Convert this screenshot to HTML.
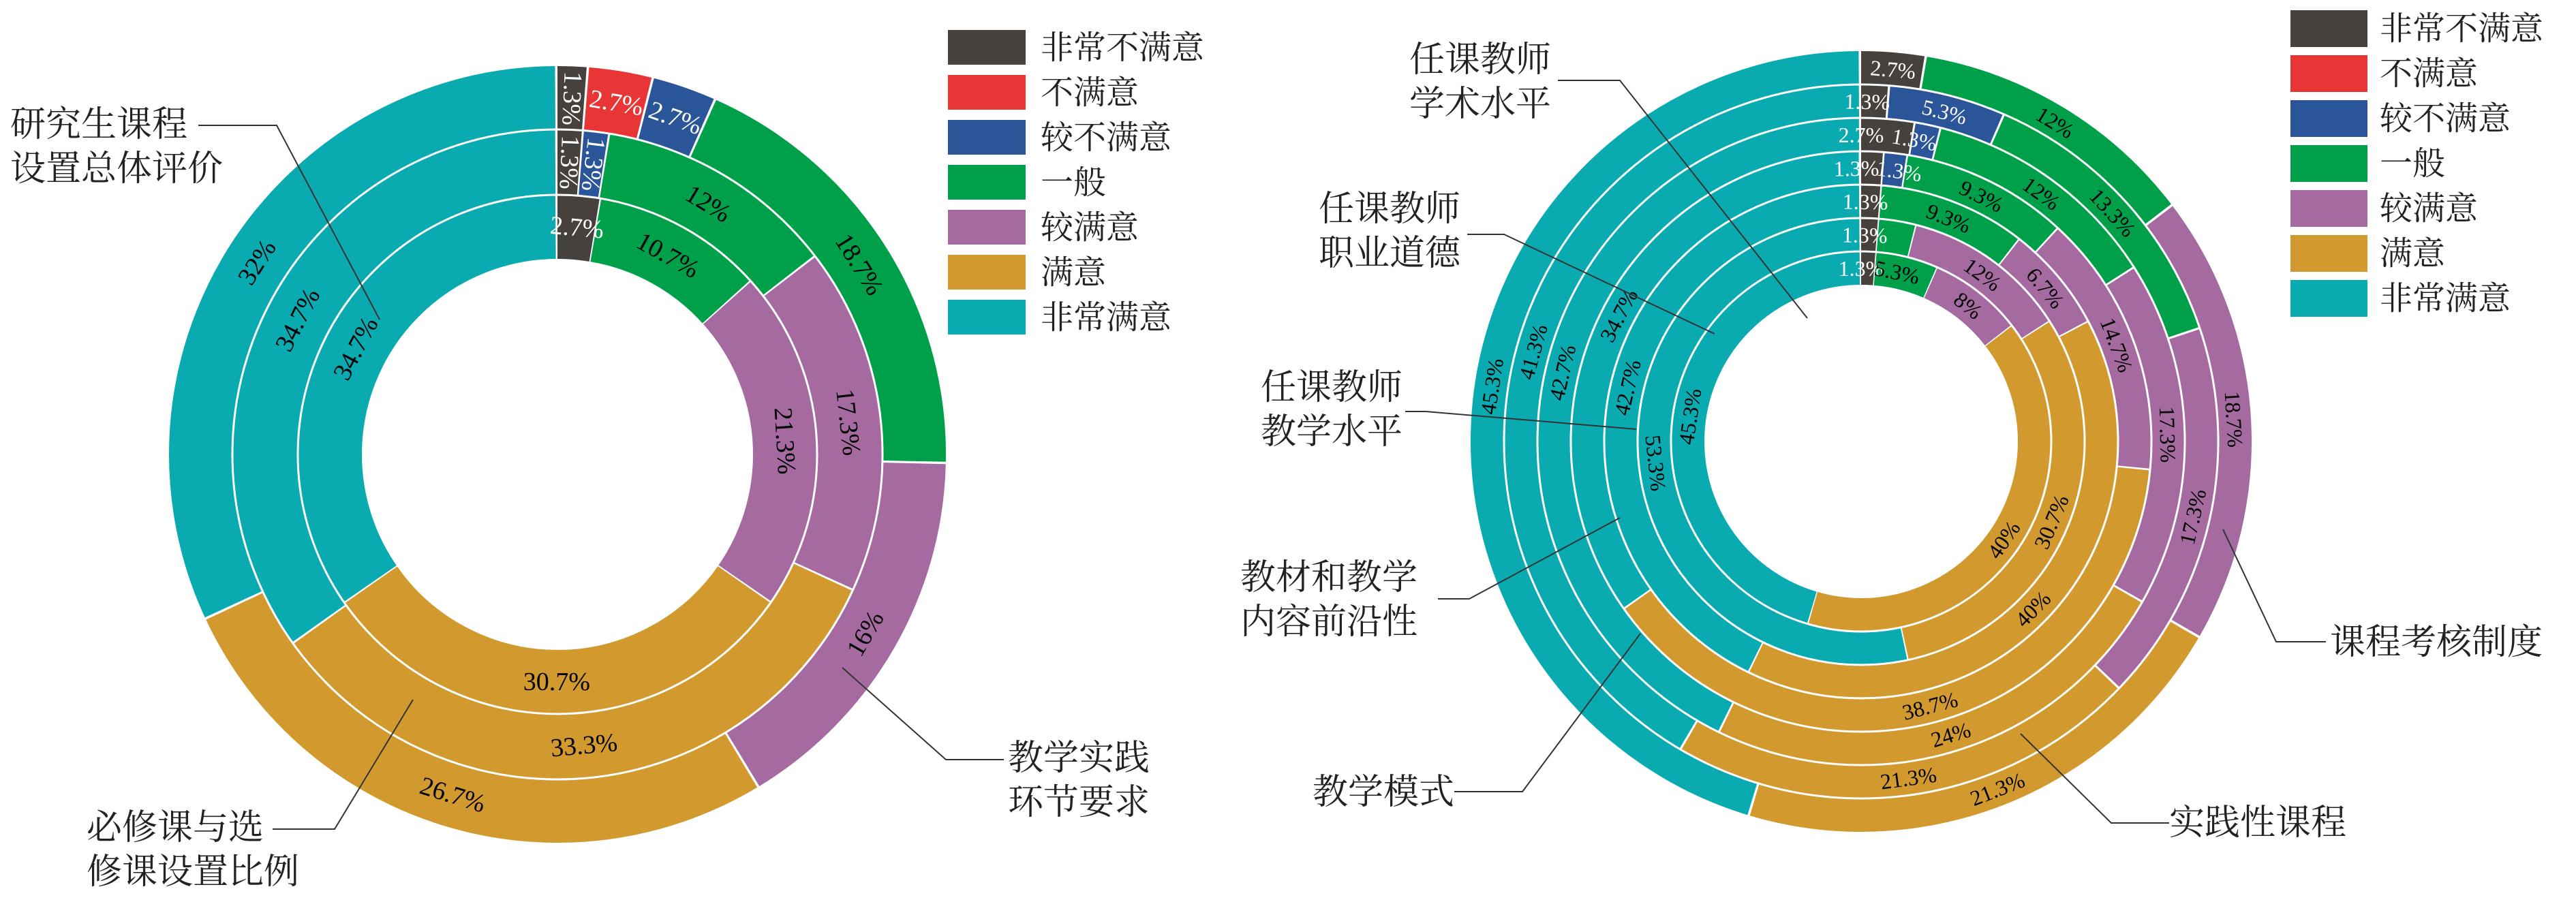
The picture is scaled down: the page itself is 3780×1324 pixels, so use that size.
<!DOCTYPE html>
<html><head><meta charset="utf-8"><style>
html,body{margin:0;padding:0;background:#fff;}
svg{display:block}
.p{font-family:"Liberation Serif","Noto Serif CJK SC",serif;text-anchor:middle;dominant-baseline:central;}
.L{font-size:38px}.R{font-size:32px}
.w{fill:#fff}
.lab{font-family:"Liberation Serif","Noto Serif CJK SC",serif;font-size:52px;fill:#222}
.leg{font-family:"Liberation Serif","Noto Serif CJK SC",serif;font-size:48px;fill:#222}
circle{fill:none}
.ld{fill:none;stroke:#333;stroke-width:2}
</style></head><body>
<svg width="3780" height="1324" viewBox="0 0 3780 1324" xmlns="http://www.w3.org/2000/svg">
<defs></defs>
<!-- LEFT CHART -->
<g transform="translate(818,667) rotate(-90)">
<g stroke-width="93">
<circle r="523.5" pathLength="100" stroke="#46413c" stroke-dasharray="1.2 100" stroke-dashoffset="0"/>
<circle r="523.5" pathLength="100" stroke="#e83535" stroke-dasharray="2.6 100" stroke-dashoffset="-1.3"/>
<circle r="523.5" pathLength="100" stroke="#2a5599" stroke-dasharray="2.6 100" stroke-dashoffset="-4"/>
<circle r="523.5" pathLength="100" stroke="#00a04a" stroke-dasharray="18.6 100" stroke-dashoffset="-6.7"/>
<circle r="523.5" pathLength="100" stroke="#a56aa0" stroke-dasharray="15.9 100" stroke-dashoffset="-25.4"/>
<circle r="523.5" pathLength="100" stroke="#d29a2e" stroke-dasharray="26.6 100" stroke-dashoffset="-41.4"/>
<circle r="523.5" pathLength="100" stroke="#0aabb0" stroke-dasharray="31.8 100" stroke-dashoffset="-68.1"/>
</g>
<g stroke-width="96">
<circle r="429" pathLength="100" stroke="#46413c" stroke-dasharray="1.2 100" stroke-dashoffset="0"/>
<circle r="429" pathLength="100" stroke="#2a5599" stroke-dasharray="1.2 100" stroke-dashoffset="-1.3"/>
<circle r="429" pathLength="100" stroke="#00a04a" stroke-dasharray="11.9 100" stroke-dashoffset="-2.6"/>
<circle r="429" pathLength="100" stroke="#a56aa0" stroke-dasharray="17.2 100" stroke-dashoffset="-14.6"/>
<circle r="429" pathLength="100" stroke="#d29a2e" stroke-dasharray="33.2 100" stroke-dashoffset="-31.9"/>
<circle r="429" pathLength="100" stroke="#0aabb0" stroke-dasharray="34.7 100" stroke-dashoffset="-65.2"/>
</g>
<g stroke-width="94">
<circle r="334" pathLength="100" stroke="#46413c" stroke-dasharray="2.6 100" stroke-dashoffset="0"/>
<circle r="334" pathLength="100" stroke="#00a04a" stroke-dasharray="10.6 100" stroke-dashoffset="-2.7"/>
<circle r="334" pathLength="100" stroke="#a56aa0" stroke-dasharray="21.2 100" stroke-dashoffset="-13.4"/>
<circle r="334" pathLength="100" stroke="#d29a2e" stroke-dasharray="30.6 100" stroke-dashoffset="-34.7"/>
<circle r="334" pathLength="100" stroke="#0aabb0" stroke-dasharray="34.5 100" stroke-dashoffset="-65.4"/>
</g>
<circle r="477" stroke="#fff" stroke-width="3"/>
<circle r="381" stroke="#fff" stroke-width="3"/>
</g>
<g transform="translate(818,667)">
<text class="p L w" transform="rotate(2.3) translate(0,-523) rotate(90)">1.3%</text>
<text class="p L w" transform="rotate(9.5) translate(0,-523)">2.7%</text>
<text class="p L w" transform="rotate(19.3) translate(0,-523)">2.7%</text>
<text class="p L" transform="rotate(57.8) translate(0,-523)">18.7%</text>
<text class="p L" transform="rotate(120.2) translate(0,-523) rotate(180)">16%</text>
<text class="p L" transform="rotate(197.1) translate(0,-523) rotate(180)">26.7%</text>
<text class="p L" transform="rotate(302.6) translate(0,-523)">32%</text>
<text class="p L w" transform="rotate(2.3) translate(0,-429) rotate(90)">1.3%</text>
<text class="p L w" transform="rotate(7) translate(0,-429) rotate(90)">1.3%</text>
<text class="p L" transform="rotate(31) translate(0,-429)">12%</text>
<text class="p L" transform="rotate(83.7) translate(0,-429)">17.3%</text>
<text class="p L" transform="rotate(174.8) translate(0,-429) rotate(180)">33.3%</text>
<text class="p L" transform="rotate(297.4) translate(0,-429)">34.7%</text>
<text class="p L w" transform="rotate(4.9) translate(0,-334)">2.7%</text>
<text class="p L" transform="rotate(29) translate(0,-334)">10.7%</text>
<text class="p L" transform="rotate(86.6) translate(0,-334)">21.3%</text>
<text class="p L" transform="rotate(180.2) translate(0,-334) rotate(180)">30.7%</text>
<text class="p L" transform="rotate(297.7) translate(0,-334)">34.7%</text>
</g>
<!-- left leaders & labels -->
<polyline class="ld" points="291,184 406,184 557,469"/>
<polyline class="ld" points="400,1217 491,1217 606,1027"/>
<polyline class="ld" points="1473,1115 1388,1115 1236,980"/>
<text class="lab" x="15" y="200">研究生课程</text>
<text class="lab" x="15" y="265">设置总体评价</text>
<text class="lab" x="127" y="1232">必修课与选</text>
<text class="lab" x="127" y="1297">修课设置比例</text>
<text class="lab" x="1479" y="1130">教学实践</text>
<text class="lab" x="1479" y="1195">环节要求</text>
<!-- left legend -->
<g>
<rect x="1391" y="44" width="114" height="51" fill="#46413c"/><text class="leg" x="1527" y="86">非常不满意</text>
<rect x="1391" y="110" width="114" height="51" fill="#e83535"/><text class="leg" x="1527" y="152">不满意</text>
<rect x="1391" y="176" width="114" height="51" fill="#2a5599"/><text class="leg" x="1527" y="218">较不满意</text>
<rect x="1391" y="242" width="114" height="51" fill="#00a04a"/><text class="leg" x="1527" y="284">一般</text>
<rect x="1391" y="308" width="114" height="51" fill="#a56aa0"/><text class="leg" x="1527" y="350">较满意</text>
<rect x="1391" y="374" width="114" height="51" fill="#d29a2e"/><text class="leg" x="1527" y="416">满意</text>
<rect x="1391" y="440" width="114" height="51" fill="#0aabb0"/><text class="leg" x="1527" y="482">非常满意</text>
</g>
<!-- RIGHT CHART -->
<g transform="translate(2731,648) rotate(-90)" stroke-width="49">
<circle r="548.5" pathLength="100" stroke="#46413c" stroke-dasharray="2.6 100"/>
<circle r="548.5" pathLength="100" stroke="#00a04a" stroke-dasharray="11.9 100" stroke-dashoffset="-2.7"/>
<circle r="548.5" pathLength="100" stroke="#a56aa0" stroke-dasharray="18.6 100" stroke-dashoffset="-14.7"/>
<circle r="548.5" pathLength="100" stroke="#d29a2e" stroke-dasharray="21.2 100" stroke-dashoffset="-33.4"/>
<circle r="548.5" pathLength="100" stroke="#0aabb0" stroke-dasharray="45.2 100" stroke-dashoffset="-54.7"/>

<circle r="499.5" pathLength="100" stroke="#46413c" stroke-dasharray="1.2 100"/>
<circle r="499.5" pathLength="100" stroke="#2a5599" stroke-dasharray="5.2 100" stroke-dashoffset="-1.3"/>
<circle r="499.5" pathLength="100" stroke="#00a04a" stroke-dasharray="13.2 100" stroke-dashoffset="-6.6"/>
<circle r="499.5" pathLength="100" stroke="#a56aa0" stroke-dasharray="17.2 100" stroke-dashoffset="-19.9"/>
<circle r="499.5" pathLength="100" stroke="#d29a2e" stroke-dasharray="21.2 100" stroke-dashoffset="-37.2"/>
<circle r="499.5" pathLength="100" stroke="#0aabb0" stroke-dasharray="41.4 100" stroke-dashoffset="-58.5"/>

<circle r="450.5" pathLength="100" stroke="#46413c" stroke-dasharray="2.6 100"/>
<circle r="450.5" pathLength="100" stroke="#2a5599" stroke-dasharray="1.2 100" stroke-dashoffset="-2.7"/>
<circle r="450.5" pathLength="100" stroke="#00a04a" stroke-dasharray="11.9 100" stroke-dashoffset="-4"/>
<circle r="450.5" pathLength="100" stroke="#a56aa0" stroke-dasharray="17.2 100" stroke-dashoffset="-16"/>
<circle r="450.5" pathLength="100" stroke="#d29a2e" stroke-dasharray="23.9 100" stroke-dashoffset="-33.3"/>
<circle r="450.5" pathLength="100" stroke="#0aabb0" stroke-dasharray="42.6 100" stroke-dashoffset="-57.3"/>

<circle r="401.5" pathLength="100" stroke="#46413c" stroke-dasharray="1.2 100"/>
<circle r="401.5" pathLength="100" stroke="#2a5599" stroke-dasharray="1.2 100" stroke-dashoffset="-1.3"/>
<circle r="401.5" pathLength="100" stroke="#00a04a" stroke-dasharray="9.2 100" stroke-dashoffset="-2.6"/>
<circle r="401.5" pathLength="100" stroke="#a56aa0" stroke-dasharray="14.6 100" stroke-dashoffset="-11.9"/>
<circle r="401.5" pathLength="100" stroke="#d29a2e" stroke-dasharray="38.6 100" stroke-dashoffset="-26.6"/>
<circle r="401.5" pathLength="100" stroke="#0aabb0" stroke-dasharray="34.6 100" stroke-dashoffset="-65.3"/>

<circle r="352.5" pathLength="100" stroke="#46413c" stroke-dasharray="1.2 100"/>
<circle r="352.5" pathLength="100" stroke="#00a04a" stroke-dasharray="9.2 100" stroke-dashoffset="-1.3"/>
<circle r="352.5" pathLength="100" stroke="#a56aa0" stroke-dasharray="6.6 100" stroke-dashoffset="-10.6"/>
<circle r="352.5" pathLength="100" stroke="#d29a2e" stroke-dasharray="39.9 100" stroke-dashoffset="-17.3"/>
<circle r="352.5" pathLength="100" stroke="#0aabb0" stroke-dasharray="42.6 100" stroke-dashoffset="-57.3"/>

<circle r="303.5" pathLength="100" stroke="#46413c" stroke-dasharray="1.2 100"/>
<circle r="303.5" pathLength="100" stroke="#00a04a" stroke-dasharray="2.6 100" stroke-dashoffset="-1.3"/>
<circle r="303.5" pathLength="100" stroke="#a56aa0" stroke-dasharray="11.9 100" stroke-dashoffset="-4"/>
<circle r="303.5" pathLength="100" stroke="#d29a2e" stroke-dasharray="30.6 100" stroke-dashoffset="-16"/>
<circle r="303.5" pathLength="100" stroke="#0aabb0" stroke-dasharray="53.2 100" stroke-dashoffset="-46.7"/>

<circle r="254.5" pathLength="100" stroke="#46413c" stroke-dasharray="1.2 100"/>
<circle r="254.5" pathLength="100" stroke="#00a04a" stroke-dasharray="5.2 100" stroke-dashoffset="-1.3"/>
<circle r="254.5" pathLength="100" stroke="#a56aa0" stroke-dasharray="7.9 100" stroke-dashoffset="-6.6"/>
<circle r="254.5" pathLength="100" stroke="#d29a2e" stroke-dasharray="39.9 100" stroke-dashoffset="-14.6"/>
<circle r="254.5" pathLength="100" stroke="#0aabb0" stroke-dasharray="45.3 100" stroke-dashoffset="-54.6"/>
<g stroke="#fff" stroke-width="3">
<circle r="524"/><circle r="475"/><circle r="426"/><circle r="377"/><circle r="328"/><circle r="279"/>
</g>
</g>
<g transform="translate(2731,648)">
<text class="p R w" transform="rotate(4.9) translate(0,-548)">2.7%</text>
<text class="p R" transform="rotate(31.3) translate(0,-548)">12%</text>
<text class="p R" transform="rotate(86.6) translate(0,-548)">18.7%</text>
<text class="p R" transform="rotate(158.6) translate(0,-548) rotate(180)">21.3%</text>
<text class="p R" transform="rotate(278.5) translate(0,-548)">45.3%</text>

<text class="p R w" transform="rotate(1) translate(0,-499)">1.3%</text>
<text class="p R w" transform="rotate(14.2) translate(0,-499)">5.3%</text>
<text class="p R" transform="rotate(47.7) translate(0,-499)">13.3%</text>
<text class="p R" transform="rotate(102.8) translate(0,-499) rotate(180)">17.3%</text>
<text class="p R" transform="rotate(172) translate(0,-499) rotate(180)">21.3%</text>
<text class="p R" transform="rotate(285.3) translate(0,-499)">41.3%</text>

<text class="p R w" transform="rotate(0) translate(0,-450)">2.7%</text>
<text class="p R w" transform="rotate(10) translate(0,-450)">1.3%</text>
<text class="p R" transform="rotate(36) translate(0,-450)">12%</text>
<text class="p R" transform="rotate(88.7) translate(0,-450)">17.3%</text>
<text class="p R" transform="rotate(163) translate(0,-450) rotate(180)">24%</text>
<text class="p R" transform="rotate(283) translate(0,-450)">42.7%</text>

<text class="p R w" transform="rotate(-1) translate(0,-401)">1.3%</text>
<text class="p R w" transform="rotate(8) translate(0,-401)">1.3%</text>
<text class="p R" transform="rotate(26.1) translate(0,-401)">9.3%</text>
<text class="p R" transform="rotate(69.3) translate(0,-401)">14.7%</text>
<text class="p R" transform="rotate(165.4) translate(0,-401) rotate(180)">38.7%</text>
<text class="p R" transform="rotate(297.5) translate(0,-401)">34.7%</text>

<text class="p R w" transform="rotate(1) translate(0,-352)">1.3%</text>
<text class="p R" transform="rotate(21.4) translate(0,-352)">9.3%</text>
<text class="p R" transform="rotate(50.2) translate(0,-352)">6.7%</text>
<text class="p R" transform="rotate(134.3) translate(0,-352) rotate(180)">40%</text>
<text class="p R" transform="rotate(283) translate(0,-352)">42.7%</text>

<text class="p R w" transform="rotate(1) translate(0,-303)">1.3%</text>
<text class="p R" transform="rotate(36) translate(0,-303)">12%</text>
<text class="p R" transform="rotate(112.9) translate(0,-303) rotate(180)">30.7%</text>
<text class="p R" transform="rotate(264) translate(0,-303) rotate(180)">53.3%</text>

<text class="p R w" transform="rotate(0) translate(0,-254)">1.3%</text>
<text class="p R" transform="rotate(12) translate(0,-254)">5.3%</text>
<text class="p R" transform="rotate(38.2) translate(0,-254)">8%</text>
<text class="p R" transform="rotate(124.6) translate(0,-254) rotate(180)">40%</text>
<text class="p R" transform="rotate(278.3) translate(0,-254)">45.3%</text>
</g>
<!-- right leaders & labels -->
<polyline class="ld" points="2286,118 2377,118 2652,467"/>
<polyline class="ld" points="2153,344 2207,344 2516,490"/>
<polyline class="ld" points="2062,604 2092,604 2401,630"/>
<polyline class="ld" points="2110,879 2156,879 2377,760"/>
<polyline class="ld" points="2134,1162 2234,1162 2407,930"/>
<polyline class="ld" points="3413,942 3340,942 3262,777"/>
<polyline class="ld" points="3183,1208 3098,1208 2965,1077"/>
<text class="lab" x="2068" y="105">任课教师</text>
<text class="lab" x="2068" y="170">学术水平</text>
<text class="lab" x="1935" y="324">任课教师</text>
<text class="lab" x="1935" y="389">职业道德</text>
<text class="lab" x="1850" y="586">任课教师</text>
<text class="lab" x="1850" y="651">教学水平</text>
<text class="lab" x="1820" y="865">教材和教学</text>
<text class="lab" x="1820" y="930">内容前沿性</text>
<text class="lab" x="1926" y="1180">教学模式</text>
<text class="lab" x="3419" y="960">课程考核制度</text>
<text class="lab" x="3183" y="1225">实践性课程</text>
<!-- right legend -->
<g>
<rect x="3361" y="15" width="113" height="54" fill="#46413c"/><text class="leg" x="3492" y="58">非常不满意</text>
<rect x="3361" y="81" width="113" height="54" fill="#e83535"/><text class="leg" x="3492" y="124">不满意</text>
<rect x="3361" y="147" width="113" height="54" fill="#2a5599"/><text class="leg" x="3492" y="190">较不满意</text>
<rect x="3361" y="213" width="113" height="54" fill="#00a04a"/><text class="leg" x="3492" y="256">一般</text>
<rect x="3361" y="279" width="113" height="54" fill="#a56aa0"/><text class="leg" x="3492" y="322">较满意</text>
<rect x="3361" y="345" width="113" height="54" fill="#d29a2e"/><text class="leg" x="3492" y="388">满意</text>
<rect x="3361" y="411" width="113" height="54" fill="#0aabb0"/><text class="leg" x="3492" y="454">非常满意</text>
</g>
</svg>
</body></html>
